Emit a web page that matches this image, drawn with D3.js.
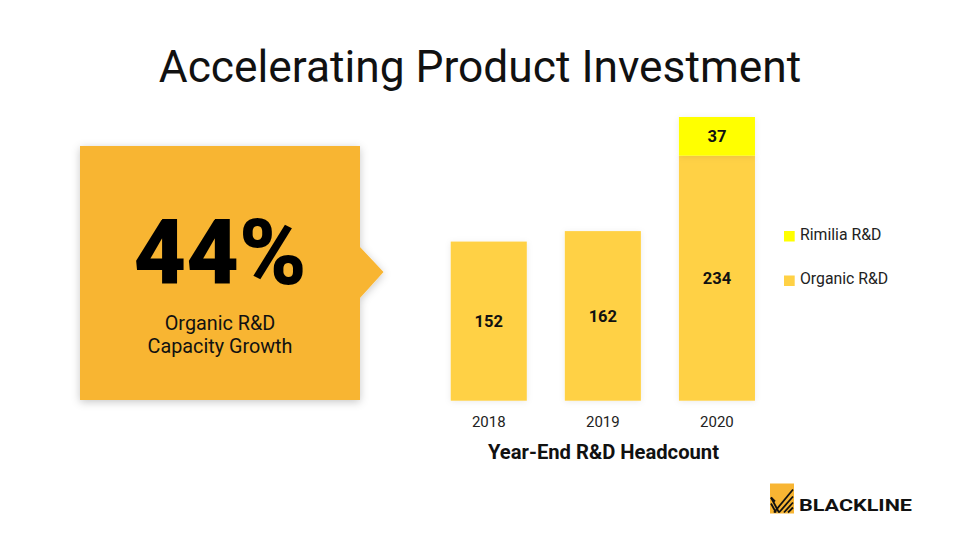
<!DOCTYPE html>
<html><head><meta charset="utf-8">
<script src="https://cdn.jsdelivr.net/npm/d3@7"></script>
<style>
body{margin:0;background:#fff;}
svg{display:block;font-family:Roboto,"Noto Sans",sans-serif;}
</style></head>
<body>
<svg id="c" width="960" height="540"></svg>
<script>
const years = ["2018","2019","2020"];
const organic = [152,162,234];
const rimilia = [0,0,37];
const seriesNames = ["Rimilia R&D","Organic R&D"];
const title = "Accelerating Product Investment";
const kpiValue = "44%";
const kpiLabel = ["Organic R&D","Capacity Growth"];
const axisTitle = "Year-End R&D Headcount";

const svg = d3.select("#c");
const defs = svg.append("defs");
const f = defs.append("filter").attr("id","sh").attr("x","-20%").attr("y","-20%").attr("width","140%").attr("height","140%");
f.append("feDropShadow").attr("dx",0).attr("dy",2).attr("stdDeviation",4).attr("flood-color","#000").attr("flood-opacity",0.22);
const f2 = defs.append("filter").attr("id","sh2").attr("x","-20%").attr("y","-20%").attr("width","140%").attr("height","140%");
f2.append("feDropShadow").attr("dx",0).attr("dy",1).attr("stdDeviation",3).attr("flood-color","#000").attr("flood-opacity",0.08);

svg.append("text").attr("x",480).attr("y",81.5).attr("text-anchor","middle")
  .attr("font-size",44.3).attr("fill","#111").text(title);

// KPI box
const box = svg.append("g");
box.append("path").attr("filter","url(#sh)").attr("fill","#F8B533")
  .attr("d","M80,146 L360,146 L360,247 L383.5,272 L360,298 L360,400 L80,400 Z");
box.append("text").attr("x",220).attr("y",284).attr("text-anchor","middle")
  .attr("font-size",91).attr("font-weight",900).attr("fill","#000").text(kpiValue);
box.selectAll("text.l").data(kpiLabel).join("text").attr("class","l")
  .attr("x",220).attr("y",(d,i)=>329.5+i*23.5).attr("text-anchor","middle")
  .attr("font-size",19.8).attr("fill","#111").text(d=>d);

// Bars
const x2 = d3.scaleBand().domain(years).range([450.7-38,755+38]).padding(0.3333);
const y = d3.scaleLinear().domain([0,271]).range([400.7,117]);
const data = years.map((yr,i)=>({yr, organic:organic[i], rimilia:rimilia[i]}));
const stack = d3.stack().keys(["organic","rimilia"])(data);
const colors = {organic:"#FFD145", rimilia:"#FFFF00"};
const g = svg.append("g");
stack.forEach(s=>{
  g.selectAll(null).data(s.filter(d=>d[1]>d[0])).join("rect")
    .attr("x",d=>x2(d.data.yr)).attr("width",x2.bandwidth())
    .attr("y",d=>y(d[1])).attr("height",d=>y(d[0])-y(d[1]))
    .attr("fill",colors[s.key]).attr("filter","url(#sh2)");
  g.selectAll(null).data(s.filter(d=>d[1]>d[0])).join("text")
    .attr("x",d=>x2(d.data.yr)+x2.bandwidth()/2)
    .attr("y",d=>(y(d[0])+y(d[1]))/2).attr("dy","0.35em")
    .attr("text-anchor","middle").attr("font-size",16.5).attr("font-weight",700).attr("fill","#111")
    .text(d=>d[1]-d[0]);
});
const ax = svg.append("g").attr("transform","translate(0,400.7)")
  .call(d3.axisBottom(x2).tickSize(0).tickPadding(16));
ax.select(".domain").remove();
ax.selectAll("text").attr("font-size",15).attr("fill","#222").attr("font-family","Roboto,sans-serif");
svg.append("text").attr("x",603.5).attr("y",459).attr("text-anchor","middle")
  .attr("font-size",20.2).attr("font-weight",700).attr("fill","#111").text(axisTitle);

// Legend
const leg = svg.append("g").attr("transform","translate(784,0)");
const legC = [colors.rimilia, colors.organic];
leg.selectAll("rect").data(seriesNames).join("rect")
  .attr("x",0).attr("y",(d,i)=>231+i*44.5).attr("width",10.7).attr("height",10.5)
  .attr("fill",(d,i)=>legC[i]);
leg.selectAll("text").data(seriesNames).join("text")
  .attr("x",16).attr("y",(d,i)=>234+i*44.5).attr("dy","0.35em")
  .attr("font-size",15.8).attr("fill","#222").text(d=>d);

// Logo
const lg = svg.append("g").attr("transform","translate(770,483.5)");
lg.append("rect").attr("width",24).attr("height",30).attr("fill","#F8B533");
const lines = [
  "M1,14 L9,29","M1,20 L6,29","M4,29 L23,6","M9,29 L23,13","M14,29 L23,19","M1,14 L5,18",
  "M18,29 L23,24"
];
lg.selectAll("path").data(lines).join("path").attr("d",d=>d)
  .attr("stroke","#111").attr("stroke-width",1.8).attr("fill","none");
svg.append("text").attr("x",799).attr("y",511).attr("font-size",17).attr("font-weight",700)
  .attr("fill","#111").attr("textLength",113).attr("lengthAdjust","spacingAndGlyphs").text("BLACKLINE");
</script>
</body></html>
